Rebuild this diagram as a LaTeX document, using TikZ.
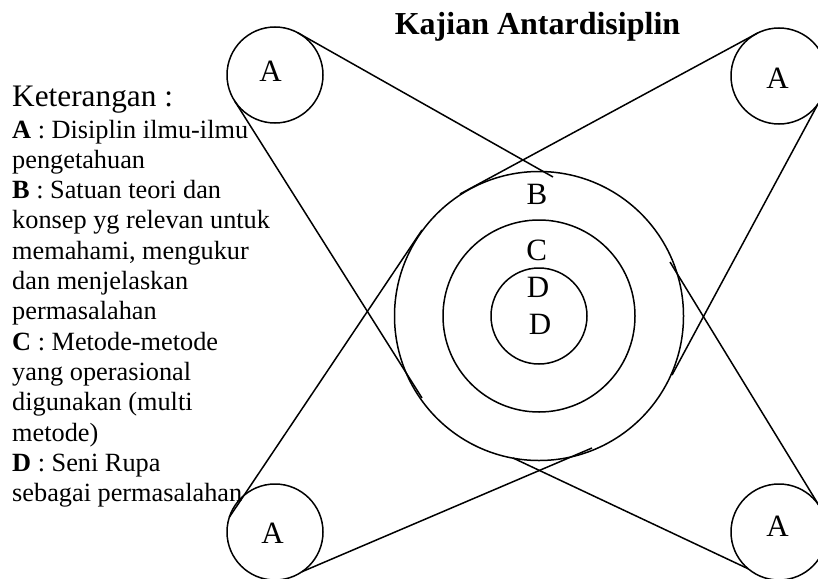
\documentclass[tikz,border=0pt]{standalone}
\usepackage{fontspec}
\setmainfont{Liberation Serif}
\begin{document}
\begin{tikzpicture}[x=1pt,y=-1pt,
  ring/.style={circle,draw,line width=1.5pt,inner sep=0pt,outer sep=0pt},
  link/.style={line width=1.5pt},
  lbl/.style={inner sep=0pt,anchor=base,font=\fontsize{31}{31}\selectfont},
  legend/.style={inner sep=0pt,anchor=base west,font=\fontsize{26.3}{30.3}\selectfont}]
\clip (0,0) rectangle (818,578);
% outer small circles
\node[ring,minimum size=96pt] (tl) at (275,75) {};
\node[ring,minimum size=96pt] (tr) at (779,76) {};
\node[ring,minimum size=96pt] (bl) at (275,532) {};
\node[ring,minimum size=96pt] (br) at (779,532) {};
% concentric circles
\node[ring,minimum size=289pt] (big) at (539,316) {};
\node[ring,minimum size=192pt] (mid) at (539,316) {};
\node[ring,minimum size=96pt] (core) at (539,316) {};
% connector ends on the big circle
\coordinate (e1) at (553,177);
\coordinate (e2) at (460,194);
\coordinate (e3) at (422,398);
\coordinate (e4) at (422,230);
\coordinate (e5) at (672,375);
\coordinate (e6) at (670,262);
\coordinate (e7) at (513,458);
\coordinate (e8) at (592,448);
% connectors
\draw[link] (tl.62.9) -- (e1);
\draw[link] (tl.213.7) -- (e3);
\draw[link] (tr.116) -- (e2);
\draw[link] (tr.-36.6) -- (e5);
\draw[link] (bl.162.3) -- (e4);
\draw[link] (bl.-56.7) -- (e8);
\draw[link] (br.-130.1) -- (e7);
\draw[link] (br.34.7) -- (e6);
% labels
\node[lbl] (la1) at (270.5,81.7) {A};
\node[lbl] (la2) at (777.5,88.3) {A};
\node[lbl] (la3) at (272.5,543.3) {A};
\node[lbl] (la4) at (777.5,536.7) {A};
\node[lbl] (lb) at (537,204.3) {B};
\node[lbl] (lc) at (536.7,260) {C};
\node[lbl] (ld1) at (538,297.3) {D};
\node[lbl] (ld2) at (540,334) {D};
% title
\node[inner sep=0pt,anchor=base,font=\bfseries\fontsize{32}{32}\selectfont] (title) at (537.5,35) {Kajian Antardisiplin};
% legend
\node[legend,font=\fontsize{31.3}{31.3}\selectfont] (ket) at (12,106) {Keterangan :};
\node[legend] (g1) at (12,138) {\textbf{A} : Disiplin ilmu-ilmu};
\node[legend] (g2) at (12,168.3) {pengetahuan};
\node[legend] (g3) at (12,198.6) {\textbf{B} : Satuan teori dan};
\node[legend] (g4) at (12,228.9) {konsep yg relevan untuk};
\node[legend] (g5) at (12,259.2) {memahami, mengukur};
\node[legend] (g6) at (12,289.5) {dan menjelaskan};
\node[legend] (g7) at (12,319.8) {permasalahan};
\node[legend] (g8) at (12,350.1) {\textbf{C} : Metode-metode};
\node[legend] (g9) at (12,380.4) {yang operasional};
\node[legend] (g10) at (12,410.7) {digunakan (multi};
\node[legend] (g11) at (12,441) {metode)};
\node[legend] (g12) at (12,471.3) {\textbf{D} : Seni Rupa};
\node[legend] (g13) at (12,501.6) {sebagai permasalahan};
\end{tikzpicture}
\end{document}
